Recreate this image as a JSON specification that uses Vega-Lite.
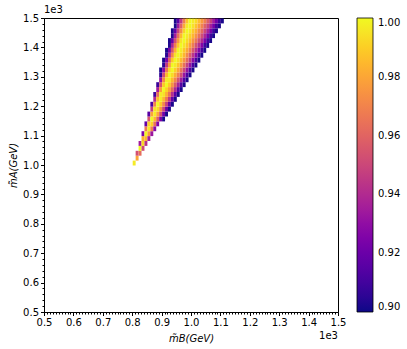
{
  "$schema": "https://vega.github.io/schema/vega-lite/v6.json",
  "autosize": "none",
  "width": 294,
  "height": 294,
  "padding": {"left": 44, "top": 18, "right": 69, "bottom": 37},
  "background": "white",
  "config": {
    "view": {"stroke": "black", "strokeWidth": 1},
    "font": "DejaVu Sans",
    "axis": {"labelFont": "DejaVu Sans", "titleFont": "DejaVu Sans", "labelFontSize": 10, "titleFontSize": 10, "labelColor": "black", "titleColor": "black", "tickColor": "black", "domainColor": "black", "grid": false, "titleFontWeight": "normal"},
    "legend": {"labelFont": "DejaVu Sans", "labelFontSize": 10, "labelColor": "black"}
  },
  "datasets": {
    "cells": [
      {"x":800,"y":1000,"v":0.997},
      {"x":810,"y":1016.67,"v":0.98},
      {"x":810,"y":1033.33,"v":0.953},{"x":820,"y":1033.33,"v":0.963},
      {"x":820,"y":1050,"v":1.0},{"x":830,"y":1050,"v":0.951},
      {"x":820,"y":1066.67,"v":0.935},{"x":830,"y":1066.67,"v":0.993},{"x":840,"y":1066.67,"v":0.942},
      {"x":830,"y":1083.33,"v":0.982},{"x":840,"y":1083.33,"v":0.984},{"x":850,"y":1083.33,"v":0.936},
      {"x":830,"y":1100,"v":0.925},{"x":840,"y":1100,"v":1.0},{"x":850,"y":1100,"v":0.976},{"x":860,"y":1100,"v":0.933},
      {"x":840,"y":1116.67,"v":0.967},{"x":850,"y":1116.67,"v":0.997},{"x":860,"y":1116.67,"v":0.969},{"x":870,"y":1116.67,"v":0.928},
      {"x":840,"y":1133.33,"v":0.919},{"x":850,"y":1133.33,"v":0.991},{"x":860,"y":1133.33,"v":0.991},{"x":870,"y":1133.33,"v":0.964},{"x":880,"y":1133.33,"v":0.926},
      {"x":850,"y":1150,"v":0.955},{"x":860,"y":1150,"v":1.0},{"x":870,"y":1150,"v":0.985},{"x":880,"y":1150,"v":0.958},{"x":890,"y":1150,"v":0.924},{"x":900,"y":1150,"v":0.902},
      {"x":850,"y":1166.67,"v":0.915},{"x":860,"y":1166.67,"v":0.98},{"x":870,"y":1166.67,"v":0.997},{"x":880,"y":1166.67,"v":0.98},{"x":890,"y":1166.67,"v":0.953},{"x":900,"y":1166.67,"v":0.922},{"x":910,"y":1166.67,"v":0.902},
      {"x":860,"y":1183.33,"v":0.946},{"x":870,"y":1183.33,"v":0.995},{"x":880,"y":1183.33,"v":0.993},{"x":890,"y":1183.33,"v":0.975},{"x":900,"y":1183.33,"v":0.95},{"x":910,"y":1183.33,"v":0.92},{"x":920,"y":1183.33,"v":0.902},
      {"x":860,"y":1200,"v":0.912},{"x":870,"y":1200,"v":0.97},{"x":880,"y":1200,"v":1.0},{"x":890,"y":1200,"v":0.989},{"x":900,"y":1200,"v":0.971},{"x":910,"y":1200,"v":0.947},{"x":920,"y":1200,"v":0.919},{"x":930,"y":1200,"v":0.902},
      {"x":870,"y":1216.67,"v":0.94},{"x":880,"y":1216.67,"v":0.986},{"x":890,"y":1216.67,"v":0.997},{"x":900,"y":1216.67,"v":0.985},{"x":910,"y":1216.67,"v":0.967},{"x":920,"y":1216.67,"v":0.944},{"x":930,"y":1216.67,"v":0.918},{"x":940,"y":1216.67,"v":0.902},
      {"x":870,"y":1233.33,"v":0.909},{"x":880,"y":1233.33,"v":0.963},{"x":890,"y":1233.33,"v":0.997},{"x":900,"y":1233.33,"v":0.995},{"x":910,"y":1233.33,"v":0.982},{"x":920,"y":1233.33,"v":0.964},{"x":930,"y":1233.33,"v":0.941},{"x":940,"y":1233.33,"v":0.916},{"x":950,"y":1233.33,"v":0.902},
      {"x":880,"y":1250,"v":0.935},{"x":890,"y":1250,"v":0.978},{"x":900,"y":1250,"v":1.0},{"x":910,"y":1250,"v":0.991},{"x":920,"y":1250,"v":0.978},{"x":930,"y":1250,"v":0.961},{"x":940,"y":1250,"v":0.939},{"x":950,"y":1250,"v":0.915},{"x":960,"y":1250,"v":0.902},
      {"x":880,"y":1266.67,"v":0.908},{"x":890,"y":1266.67,"v":0.955},{"x":900,"y":1266.67,"v":0.989},{"x":910,"y":1266.67,"v":1.0},{"x":920,"y":1266.67,"v":0.989},{"x":930,"y":1266.67,"v":0.975},{"x":940,"y":1266.67,"v":0.957},{"x":950,"y":1266.67,"v":0.937},{"x":960,"y":1266.67,"v":0.915},{"x":970,"y":1266.67,"v":0.902},
      {"x":890,"y":1283.33,"v":0.931},{"x":900,"y":1283.33,"v":0.971},{"x":910,"y":1283.33,"v":0.997},{"x":920,"y":1283.33,"v":0.997},{"x":930,"y":1283.33,"v":0.985},{"x":940,"y":1283.33,"v":0.971},{"x":950,"y":1283.33,"v":0.954},{"x":960,"y":1283.33,"v":0.935},{"x":970,"y":1283.33,"v":0.914},{"x":980,"y":1283.33,"v":0.902},
      {"x":890,"y":1300,"v":0.906},{"x":900,"y":1300,"v":0.951},{"x":910,"y":1300,"v":0.984},{"x":920,"y":1300,"v":1.0},{"x":930,"y":1300,"v":0.993},{"x":940,"y":1300,"v":0.982},{"x":950,"y":1300,"v":0.969},{"x":960,"y":1300,"v":0.953},{"x":970,"y":1300,"v":0.933},{"x":980,"y":1300,"v":0.913},{"x":990,"y":1300,"v":0.902},
      {"x":890,"y":1316.67,"v":0.902},{"x":900,"y":1316.67,"v":0.928},{"x":910,"y":1316.67,"v":0.966},{"x":920,"y":1316.67,"v":0.993},{"x":930,"y":1316.67,"v":1.0},{"x":940,"y":1316.67,"v":0.991},{"x":950,"y":1316.67,"v":0.98},{"x":960,"y":1316.67,"v":0.966},{"x":970,"y":1316.67,"v":0.95},{"x":980,"y":1316.67,"v":0.932},{"x":990,"y":1316.67,"v":0.912},{"x":1000,"y":1316.67,"v":0.902},
      {"x":900,"y":1333.33,"v":0.905},{"x":910,"y":1333.33,"v":0.945},{"x":920,"y":1333.33,"v":0.977},{"x":930,"y":1333.33,"v":1.0},{"x":940,"y":1333.33,"v":0.997},{"x":950,"y":1333.33,"v":0.988},{"x":960,"y":1333.33,"v":0.977},{"x":970,"y":1333.33,"v":0.964},{"x":980,"y":1333.33,"v":0.948},{"x":990,"y":1333.33,"v":0.931},{"x":1000,"y":1333.33,"v":0.912},{"x":1010,"y":1333.33,"v":0.902},
      {"x":900,"y":1350,"v":0.902},{"x":910,"y":1350,"v":0.924},{"x":920,"y":1350,"v":0.961},{"x":930,"y":1350,"v":0.988},{"x":940,"y":1350,"v":1.0},{"x":950,"y":1350,"v":0.995},{"x":960,"y":1350,"v":0.986},{"x":970,"y":1350,"v":0.975},{"x":980,"y":1350,"v":0.962},{"x":990,"y":1350,"v":0.946},{"x":1000,"y":1350,"v":0.929},{"x":1010,"y":1350,"v":0.912},{"x":1020,"y":1350,"v":0.902},
      {"x":910,"y":1366.67,"v":0.905},{"x":920,"y":1366.67,"v":0.941},{"x":930,"y":1366.67,"v":0.972},{"x":940,"y":1366.67,"v":0.995},{"x":950,"y":1366.67,"v":1.0},{"x":960,"y":1366.67,"v":0.993},{"x":970,"y":1366.67,"v":0.984},{"x":980,"y":1366.67,"v":0.972},{"x":990,"y":1366.67,"v":0.958},{"x":1000,"y":1366.67,"v":0.944},{"x":1010,"y":1366.67,"v":0.928},{"x":1020,"y":1366.67,"v":0.911},{"x":1030,"y":1366.67,"v":0.902},
      {"x":910,"y":1383.33,"v":0.902},{"x":920,"y":1383.33,"v":0.923},{"x":930,"y":1383.33,"v":0.955},{"x":940,"y":1383.33,"v":0.982},{"x":950,"y":1383.33,"v":1.0},{"x":960,"y":1383.33,"v":0.997},{"x":970,"y":1383.33,"v":0.989},{"x":980,"y":1383.33,"v":0.981},{"x":990,"y":1383.33,"v":0.97},{"x":1000,"y":1383.33,"v":0.956},{"x":1010,"y":1383.33,"v":0.942},{"x":1020,"y":1383.33,"v":0.927},{"x":1030,"y":1383.33,"v":0.911},{"x":1040,"y":1383.33,"v":0.902},
      {"x":920,"y":1400,"v":0.903},{"x":930,"y":1400,"v":0.939},{"x":940,"y":1400,"v":0.968},{"x":950,"y":1400,"v":0.989},{"x":960,"y":1400,"v":1.0},{"x":970,"y":1400,"v":0.995},{"x":980,"y":1400,"v":0.988},{"x":990,"y":1400,"v":0.978},{"x":1000,"y":1400,"v":0.968},{"x":1010,"y":1400,"v":0.954},{"x":1020,"y":1400,"v":0.941},{"x":1030,"y":1400,"v":0.926},{"x":1040,"y":1400,"v":0.91},{"x":1050,"y":1400,"v":0.902},
      {"x":920,"y":1416.67,"v":0.902},{"x":930,"y":1416.67,"v":0.92},{"x":940,"y":1416.67,"v":0.952},{"x":950,"y":1416.67,"v":0.977},{"x":960,"y":1416.67,"v":0.995},{"x":970,"y":1416.67,"v":1.0},{"x":980,"y":1416.67,"v":0.993},{"x":990,"y":1416.67,"v":0.986},{"x":1000,"y":1416.67,"v":0.976},{"x":1010,"y":1416.67,"v":0.966},{"x":1020,"y":1416.67,"v":0.953},{"x":1030,"y":1416.67,"v":0.94},{"x":1040,"y":1416.67,"v":0.925},{"x":1050,"y":1416.67,"v":0.91},{"x":1060,"y":1416.67,"v":0.902},
      {"x":930,"y":1433.33,"v":0.903},{"x":940,"y":1433.33,"v":0.935},{"x":950,"y":1433.33,"v":0.964},{"x":960,"y":1433.33,"v":0.985},{"x":970,"y":1433.33,"v":1.0},{"x":980,"y":1433.33,"v":0.997},{"x":990,"y":1433.33,"v":0.991},{"x":1000,"y":1433.33,"v":0.984},{"x":1010,"y":1433.33,"v":0.975},{"x":1020,"y":1433.33,"v":0.964},{"x":1030,"y":1433.33,"v":0.952},{"x":1040,"y":1433.33,"v":0.939},{"x":1050,"y":1433.33,"v":0.924},{"x":1060,"y":1433.33,"v":0.909},{"x":1070,"y":1433.33,"v":0.902},
      {"x":930,"y":1450,"v":0.902},{"x":940,"y":1450,"v":0.919},{"x":950,"y":1450,"v":0.949},{"x":960,"y":1450,"v":0.972},{"x":970,"y":1450,"v":0.991},{"x":980,"y":1450,"v":1.0},{"x":990,"y":1450,"v":0.997},{"x":1000,"y":1450,"v":0.989},{"x":1010,"y":1450,"v":0.982},{"x":1020,"y":1450,"v":0.972},{"x":1030,"y":1450,"v":0.962},{"x":1040,"y":1450,"v":0.95},{"x":1050,"y":1450,"v":0.937},{"x":1060,"y":1450,"v":0.923},{"x":1070,"y":1450,"v":0.909},{"x":1080,"y":1450,"v":0.902},
      {"x":940,"y":1466.67,"v":0.902},{"x":950,"y":1466.67,"v":0.933},{"x":960,"y":1466.67,"v":0.959},{"x":970,"y":1466.67,"v":0.981},{"x":980,"y":1466.67,"v":0.997},{"x":990,"y":1466.67,"v":1.0},{"x":1000,"y":1466.67,"v":0.995},{"x":1010,"y":1466.67,"v":0.988},{"x":1020,"y":1466.67,"v":0.98},{"x":1030,"y":1466.67,"v":0.97},{"x":1040,"y":1466.67,"v":0.959},{"x":1050,"y":1466.67,"v":0.949},{"x":1060,"y":1466.67,"v":0.936},{"x":1070,"y":1466.67,"v":0.923},{"x":1080,"y":1466.67,"v":0.909},{"x":1090,"y":1466.67,"v":0.902},
      {"x":940,"y":1483.33,"v":0.902},{"x":950,"y":1483.33,"v":0.917},{"x":960,"y":1483.33,"v":0.945},{"x":970,"y":1483.33,"v":0.969},{"x":980,"y":1483.33,"v":0.988},{"x":990,"y":1483.33,"v":1.0},{"x":1000,"y":1483.33,"v":0.997},{"x":1010,"y":1483.33,"v":0.993},{"x":1020,"y":1483.33,"v":0.986},{"x":1030,"y":1483.33,"v":0.977},{"x":1040,"y":1483.33,"v":0.969},{"x":1050,"y":1483.33,"v":0.958},{"x":1060,"y":1483.33,"v":0.948},{"x":1070,"y":1483.33,"v":0.935},{"x":1080,"y":1483.33,"v":0.922},{"x":1090,"y":1483.33,"v":0.908},{"x":1100,"y":1483.33,"v":0.902}
    ]
  },
  "layer": [
    {
      "data": {"name": "cells"},
      "mark": {"type": "rect", "binSpacing": 0, "strokeWidth": 0},
      "encoding": {
        "x": {
          "field": "x", "type": "quantitative", "bin": {"binned": true, "step": 10},
          "scale": {"domain": [500, 1500], "nice": false, "zero": false},
          "axis": {
            "title": "m̃B(GeV)", "titleFontStyle": "italic", "titlePadding": 6,
            "values": [500,510,520,530,540,550,560,570,580,590,600,610,620,630,640,650,660,670,680,690,700,710,720,730,740,750,760,770,780,790,800,810,820,830,840,850,860,870,880,890,900,910,920,930,940,950,960,970,980,990,1000,1010,1020,1030,1040,1050,1060,1070,1080,1090,1100,1110,1120,1130,1140,1150,1160,1170,1180,1190,1200,1210,1220,1230,1240,1250,1260,1270,1280,1290,1300,1310,1320,1330,1340,1350,1360,1370,1380,1390,1400,1410,1420,1430,1440,1450,1460,1470,1480,1490,1500],
            "labelExpr": "datum.value % 100 === 0 ? format(datum.value / 1000, '.1f') : ''",
            "tickSize": {"condition": {"test": "datum.value % 100 === 0", "value": 3.5}, "value": 2},
            "labelPadding": 2, "labelOverlap": false, "labelFlush": false
          }
        },
        "y": {
          "field": "y", "type": "quantitative", "bin": {"binned": true, "step": 16.6667},
          "scale": {"domain": [500, 1500], "nice": false, "zero": false},
          "axis": {
            "title": "m̃A(GeV)", "titleFontStyle": "italic", "titlePadding": 4,
            "values": [500,510,520,530,540,550,560,570,580,590,600,610,620,630,640,650,660,670,680,690,700,710,720,730,740,750,760,770,780,790,800,810,820,830,840,850,860,870,880,890,900,910,920,930,940,950,960,970,980,990,1000,1010,1020,1030,1040,1050,1060,1070,1080,1090,1100,1110,1120,1130,1140,1150,1160,1170,1180,1190,1200,1210,1220,1230,1240,1250,1260,1270,1280,1290,1300,1310,1320,1330,1340,1350,1360,1370,1380,1390,1400,1410,1420,1430,1440,1450,1460,1470,1480,1490,1500],
            "labelExpr": "datum.value % 100 === 0 ? format(datum.value / 1000, '.1f') : ''",
            "tickSize": {"condition": {"test": "datum.value % 100 === 0", "value": 3.5}, "value": 2},
            "labelPadding": 2, "labelOverlap": false, "labelFlush": false
          }
        },
        "color": {
          "field": "v", "type": "quantitative",
          "scale": {"scheme": "plasma", "domain": [0.9, 1.0], "clamp": true},
          "legend": {
            "title": null, "orient": "right", "offset": 19, "padding": 0,
            "gradientLength": 294, "gradientThickness": 16,
            "gradientStrokeColor": "black", "gradientStrokeWidth": 0.8,
            "values": [0.9, 0.92, 0.94, 0.96, 0.98, 1.0], "format": ".2f",
            "labelOffset": 5, "labelFontSize": 10
          }
        }
      }
    },
    {
      "data": {"values": [{}]},
      "mark": {"type": "text", "text": "1e3", "align": "left", "baseline": "bottom", "dy": -3, "fontSize": 10, "font": "DejaVu Sans", "color": "black"},
      "encoding": {"x": {"datum": 500}, "y": {"datum": 1500}}
    },
    {
      "data": {"values": [{}]},
      "mark": {"type": "text", "text": "1e3", "align": "right", "baseline": "top", "dy": 19, "fontSize": 10, "font": "DejaVu Sans", "color": "black"},
      "encoding": {"x": {"datum": 1500}, "y": {"datum": 500}}
    }
  ]
}
